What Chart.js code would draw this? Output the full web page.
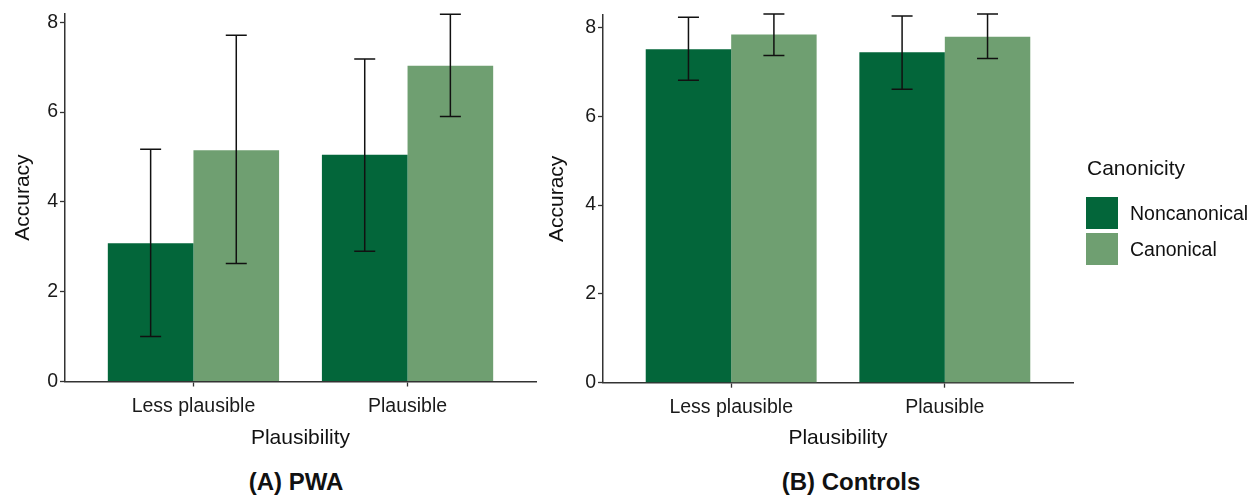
<!DOCTYPE html>
<html>
<head>
<meta charset="utf-8">
<script src="https://cdn.jsdelivr.net/npm/chart.js@4.4.1/dist/chart.umd.min.js"></script>
<style>
  html, body { margin: 0; padding: 0; background: #ffffff; }
  body { width: 1249px; height: 496px; overflow: hidden; position: relative; font-family: "Liberation Sans", Arial, sans-serif; color: #111; }
  #c1 { position: absolute; left: 0; top: 0; }
  #c2 { position: absolute; left: 540px; top: 0; }
  .cap { position: absolute; font-weight: bold; font-size: 24px; line-height: 28px; height: 28px; white-space: nowrap; transform: translateX(-50%); color: #111; }
  .lg { position: absolute; white-space: nowrap; color: #111; }
  .sw { position: absolute; width: 32px; height: 32px; }
</style>
</head>
<body>
<canvas id="c1" width="540" height="452"></canvas>
<canvas id="c2" width="709" height="452"></canvas>
<div class="cap" id="capA" style="left:296px; top:468px;">(A) PWA</div>
<div class="cap" id="capB" style="left:851px; top:468px;">(B) Controls</div>
<div id="legend"></div>
<script>
// ---------- data ----------
const categories = ['Less plausible', 'Plausible'];
const seriesNames = ['Noncanonical', 'Canonical'];
const seriesColors = ['#03663a', '#6f9f71'];
const yTicks = [0, 2, 4, 6, 8];

const pwaNoncanonical = [3.08, 5.05];
const pwaNoncanonicalLow = [1.00, 2.90];
const pwaNoncanonicalHigh = [5.17, 7.18];
const pwaCanonical = [5.15, 7.03];
const pwaCanonicalLow = [2.63, 5.90];
const pwaCanonicalHigh = [7.71, 8.18];

const ctrlNoncanonical = [7.51, 7.44];
const ctrlNoncanonicalLow = [6.81, 6.61];
const ctrlNoncanonicalHigh = [8.23, 8.26];
const ctrlCanonical = [7.84, 7.79];
const ctrlCanonicalLow = [7.37, 7.30];
const ctrlCanonicalHigh = [8.30, 8.30];

// ---------- helpers ----------
Chart.defaults.font.family = '"Liberation Sans", Arial, sans-serif';
const AXIS = '#333333';

const errorBars = {
  id: 'errorBars',
  afterDatasetsDraw(chart) {
    const ctx = chart.ctx;
    const yScale = chart.scales.y;
    ctx.save();
    ctx.strokeStyle = '#111111';
    ctx.lineWidth = 1.5;
    chart.data.datasets.forEach((ds, i) => {
      const meta = chart.getDatasetMeta(i);
      meta.data.forEach((bar, j) => {
        const x = bar.x;
        const lo = yScale.getPixelForValue(ds.errLow[j]);
        const hi = yScale.getPixelForValue(ds.errHigh[j]);
        const half = 10.5;
        ctx.beginPath();
        ctx.moveTo(x, lo); ctx.lineTo(x, hi);
        ctx.moveTo(x - half, lo); ctx.lineTo(x + half, lo);
        ctx.moveTo(x - half, hi); ctx.lineTo(x + half, hi);
        ctx.stroke();
      });
    });
    ctx.restore();
  }
};

function makeDataset(idx, vals, lo, hi) {
  return {
    label: seriesNames[idx],
    data: categories.map((c, i) => ({ x: i + 1, y: vals[i] })),
    backgroundColor: seriesColors[idx],
    borderWidth: 0,
    categoryPercentage: 0.8,
    barPercentage: 1.0,
    errLow: lo,
    errHigh: hi
  };
}

function makeChart(canvasId, datasets, yMax, pad, yWidth, xHeight, yTitlePad) {
  return new Chart(document.getElementById(canvasId), {
    type: 'bar',
    data: { datasets },
    options: {
      responsive: false,
      animation: false,
      devicePixelRatio: 1,
      layout: { padding: pad },
      plugins: { legend: { display: false }, tooltip: { enabled: false }, title: { display: false } },
      scales: {
        x: {
          type: 'linear',
          min: 0.4,
          max: categories.length + 0.6,
          offset: false,
          afterBuildTicks: s => { s.ticks = categories.map((c, i) => ({ value: i + 1 })); },
          afterFit: s => { s.height = xHeight; },
          ticks: {
            autoSkip: false,
            maxRotation: 0,
            padding: 8,
            color: '#1a1a1a',
            font: { size: 19.5 },
            callback: v => categories[Math.round(v) - 1]
          },
          grid: { offset: false, drawOnChartArea: false, drawTicks: true, tickLength: 5, color: AXIS, tickWidth: 1.3 },
          border: { display: true, color: AXIS, width: 1.5 },
          title: { display: true, text: 'Plausibility', color: '#111', font: { size: 21 }, padding: { top: 0, bottom: 1.5 } }
        },
        y: {
          min: 0,
          max: yMax,
          afterBuildTicks: s => { s.ticks = yTicks.map(v => ({ value: v })); },
          afterFit: s => { s.width = yWidth; },
          ticks: { padding: 2, color: '#1a1a1a', font: { size: 19.5 } },
          grid: { drawOnChartArea: false, drawTicks: true, tickLength: 5, color: AXIS, tickWidth: 1.3 },
          border: { display: true, color: AXIS, width: 1.5 },
          title: { display: true, text: 'Accuracy', color: '#111', font: { size: 21 }, padding: { top: yTitlePad, bottom: 0 } }
        }
      }
    },
    plugins: [errorBars]
  });
}

makeChart('c1', [
  makeDataset(0, pwaNoncanonical, pwaNoncanonicalLow, pwaNoncanonicalHigh),
  makeDataset(1, pwaCanonical, pwaCanonicalLow, pwaCanonicalHigh)
], 8.19, { left: 0, right: 4, top: 13, bottom: 0 }, 65, 70.5, 11);

makeChart('c2', [
  makeDataset(0, ctrlNoncanonical, ctrlNoncanonicalLow, ctrlNoncanonicalHigh),
  makeDataset(1, ctrlCanonical, ctrlCanonicalLow, ctrlCanonicalHigh)
], 8.28, { left: 0, right: 176, top: 15, bottom: 0 }, 63, 69.3, 5);

// ---------- legend ----------
const legend = document.getElementById('legend');
const t = document.createElement('div');
t.className = 'lg';
t.textContent = 'Canonicity';
t.style.cssText = 'left:1087px; top:156px; font-size:21px; line-height:24px;';
legend.appendChild(t);
seriesNames.forEach((name, i) => {
  const top = 197 + i * 36;
  const sw = document.createElement('div');
  sw.className = 'sw';
  sw.style.left = '1086px';
  sw.style.top = top + 'px';
  sw.style.background = seriesColors[i];
  legend.appendChild(sw);
  const lb = document.createElement('div');
  lb.className = 'lg';
  lb.textContent = name;
  lb.style.cssText = 'left:1130px; top:' + (top + 4) + 'px; font-size:19.5px; line-height:24px;';
  legend.appendChild(lb);
});
</script>
</body>
</html>
